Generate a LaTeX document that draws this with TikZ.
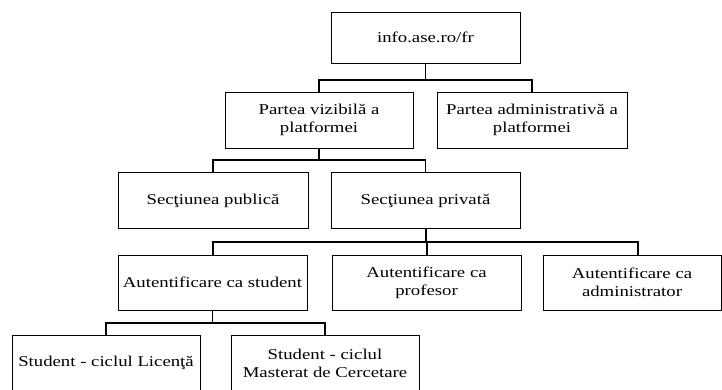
\documentclass[tikz,border=0pt]{standalone}
\usepackage{fontspec}
\setmainfont{Liberation Serif}[FakeStretch=1.25]
\usepackage{tikz}
\usetikzlibrary{positioning}
\tikzset{box node/.style={rectangle, draw, line width=1pt, align=center,
    inner sep=1pt, minimum width=189pt, minimum height=56pt,
    font=\fontsize{15}{18}\selectfont}}
\tikzset{tree edge/.style={draw=black, line width=1.7pt}}

\begin{document}
\begin{tikzpicture}
  [x=1pt, y=-1pt]
  \useasboundingbox (0,0) rectangle (722,389);
  \clip (0,0) rectangle (722,389);

  \node [box node, minimum height=51pt] (root) at (425.5, 37.5) {info.ase.ro/fr};
  \node [box node, minimum width=188pt] (l1n0) at (319,   120)  {Partea vizibilă a\\platformei};
  \node [box node, minimum width=190pt] (l1n1) at (532,   120)  {Partea administrativă a\\platformei};
  \node [box node, minimum width=190pt] (l2n0) at (213,   200.5) {Secţiunea publică};
  \node [box node]                      (l2n1) at (425.5, 200.5) {Secţiunea privată};
  \node [box node, minimum height=55pt] (l3n0) at (212.5, 282.5) {Autentificare ca student};
  \node [box node, minimum height=55pt] (l3n1) at (426.5, 282.5) {Autentificare ca\\profesor};
  \node [box node, minimum height=55pt, minimum width=178pt] (l3n2) at (632, 282.5) {Autentificare ca\\administrator};
  \node [box node, minimum width=188pt] (l4n0) at (106,   363)  {Student - ciclul Licenţă};
  \node [box node, minimum width=188pt] (l4n1) at (325,   363)  {Student - ciclul\\Masterat de Cercetare};

  \coordinate (bus1) at (0,  80);
  \coordinate (bus2) at (0, 160);
  \coordinate (bus3) at (0, 242);
  \coordinate (bus4) at (0, 323);

  \draw [tree edge] (root.south) -- (root.south |- bus1) -| (l1n0.north);
  \draw [tree edge] (root.south) -- (root.south |- bus1) -| (l1n1.north);
  \draw [tree edge, line width=1.2pt] (l1n0.south) -- (l1n0.south |- bus2) -| (l2n0.north);
  \draw [tree edge, line width=1.2pt] (l1n0.south) -- (l1n0.south |- bus2) -| (l2n1.north);
  \draw [tree edge, line width=2pt] (l2n1.south) -- (l2n1.south |- bus3) -| (l3n0.north);
  \draw [tree edge, line width=2pt] (l2n1.south) -- (l2n1.south |- bus3) -| (l3n1.north);
  \draw [tree edge, line width=2pt] (l2n1.south) -- (l2n1.south |- bus3) -| ([xshift=6pt]l3n2.north);
  \draw [tree edge] (l3n0.south) -- (l3n0.south |- bus4) -| (l4n0.north);
  \draw [tree edge] (l3n0.south) -- (l3n0.south |- bus4) -| (l4n1.north);
\end{tikzpicture}
\end{document}
